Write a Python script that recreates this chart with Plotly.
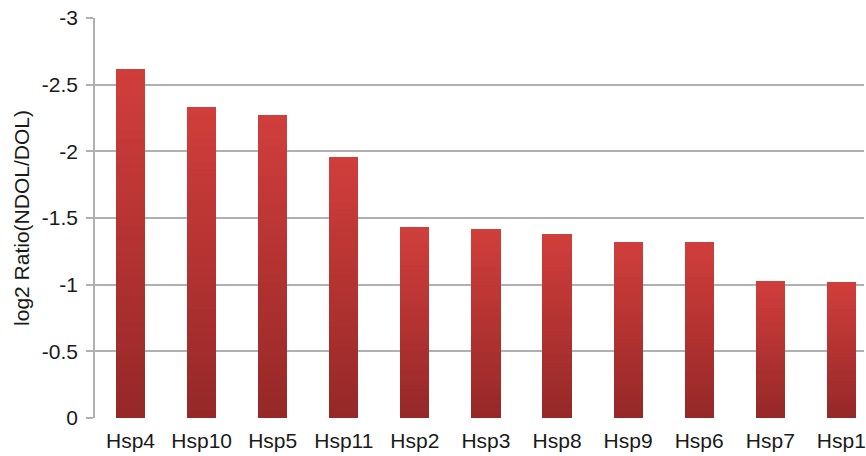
import plotly.graph_objects as go

# Heat-shock protein log2 ratios (NDOL vs DOL)
genes = ["Hsp4", "Hsp10", "Hsp5", "Hsp11", "Hsp2", "Hsp3",
         "Hsp8", "Hsp9", "Hsp6", "Hsp7", "Hsp1"]
log2_ratio = [-2.62, -2.33, -2.27, -1.96, -1.43, -1.42,
              -1.38, -1.32, -1.32, -1.03, -1.02]

y_ticks = [0, -0.5, -1, -1.5, -2, -2.5, -3]
y_tick_text = ["0", "-0.5", "-1", "-1.5", "-2", "-2.5", "-3"]

# each bar is built from stacked slices so its fill darkens toward the base
N_SLICES = 40
dark = (150, 40, 40)
light = (208, 62, 59)

fig = go.Figure()
for k in range(N_SLICES):
    t = k / (N_SLICES - 1)
    col = "rgb({},{},{})".format(*[round(d + (l - d) * t) for d, l in zip(dark, light)])
    fig.add_trace(go.Bar(
        x=genes,
        y=[v / N_SLICES for v in log2_ratio],
        marker=dict(color=col, line=dict(width=0)),
        showlegend=False,
        hoverinfo="skip",
    ))

font_family = "Liberation Sans, Arial, sans-serif"
grid_col = "#b0b0b0"

fig.update_layout(
    width=866,
    height=456,
    barmode="stack",
    bargap=0.59,
    paper_bgcolor="white",
    plot_bgcolor="white",
    margin=dict(l=95, r=0, t=18, b=38),
    font=dict(family=font_family, size=21, color="#1a1a1a"),
    xaxis=dict(
        range=[-0.5, 10.318],
        showgrid=False,
        showline=False,
        zeroline=False,
        ticks="",
        ticklabelstandoff=8,
        tickfont=dict(size=21),
    ),
    yaxis=dict(
        range=[0, -3],
        tickvals=y_ticks,
        ticktext=y_tick_text,
        showgrid=True,
        gridcolor=grid_col,
        gridwidth=1.6,
        zeroline=False,
        showline=True,
        linecolor=grid_col,
        linewidth=1.6,
        ticks="outside",
        ticklen=7,
        tickcolor=grid_col,
        tickwidth=1.6,
        ticklabelstandoff=4,
        tickfont=dict(size=21),
        title=dict(text="log2 Ratio(NDOL/DOL)", font=dict(size=21), standoff=6),
    ),
)

fig.write_html("out.html")
